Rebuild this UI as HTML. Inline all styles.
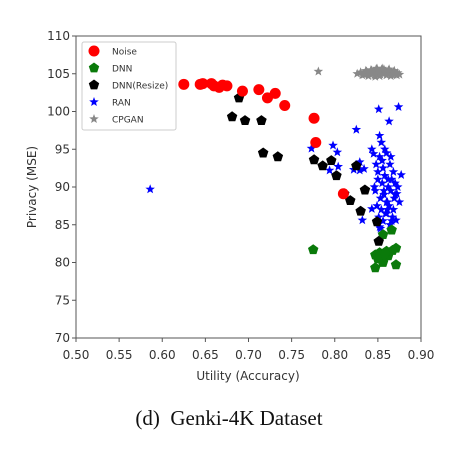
<!DOCTYPE html>
<html><head><meta charset="utf-8"><style>
body{margin:0;background:#fff;width:456px;height:444px;overflow:hidden}
svg text{font-family:"DejaVu Sans","Liberation Sans",sans-serif}
svg text.cap{font-family:"Liberation Serif",serif}
</style></head><body>
<svg id="chart" width="456" height="444" xmlns="http://www.w3.org/2000/svg"></svg>
<script>
const xTicks=[0.50,0.55,0.60,0.65,0.70,0.75,0.80,0.85,0.90];
const yTicks=[70,75,80,85,90,95,100,105,110];
const noiseX=[0.625,0.644,0.647,0.657,0.66,0.666,0.67,0.675,0.693,0.712,0.722,0.731,0.742,0.776,0.778,0.81];
const noiseY=[103.6,103.6,103.7,103.7,103.4,103.2,103.5,103.4,102.7,102.9,101.8,102.4,100.8,99.1,95.9,89.1];
const dnnX=[0.775,0.847,0.856,0.871,0.871,0.867,0.856,0.866,0.847,0.852,0.857,0.862,0.855,0.86,0.85,0.853,0.858];
const dnnY=[81.7,79.3,80.0,79.7,81.9,81.6,83.7,84.3,81.0,81.3,80.6,80.9,80.2,81.5,80.5,81.0,81.2];
const resX=[0.689,0.681,0.696,0.715,0.717,0.734,0.776,0.786,0.796,0.802,0.811,0.818,0.825,0.83,0.835,0.849,0.851];
const resY=[101.8,99.3,98.8,98.8,94.5,94.0,93.6,92.8,93.5,91.5,89.1,88.2,92.8,86.8,89.6,85.4,82.8];
const ranX=[0.586,0.773,0.798,0.803,0.794,0.804,0.825,0.822,0.829,0.834,0.829,0.832,0.851,0.874,0.863,0.852,0.854,0.843,0.845,0.877,0.843,0.852,0.875,0.872,0.871,
0.848,0.852,0.856,0.86,0.864,0.868,0.85,0.855,0.858,0.862,0.866,0.87,0.847,0.853,0.857,0.861,0.865,0.869,0.849,0.854,0.859,0.863,0.867,0.851,0.856,0.86,0.864,0.868,0.873,0.846,0.85,0.855,0.86,0.865,0.87,0.853,0.858,0.862,0.866,0.857,0.861];
const ranY=[89.7,95.1,95.5,94.6,92.2,92.7,97.6,92.3,92.2,92.4,93.3,85.6,100.3,100.6,98.7,96.8,95.9,95.0,94.4,91.6,87.1,84.7,88.0,89.1,85.6,
93.0,94.0,92.5,94.5,93.0,92.0,91.0,90.5,91.5,90.0,91.0,90.5,89.5,88.5,89.0,88.0,89.5,88.5,87.5,87.0,86.5,87.5,86.0,86.0,85.5,86.5,85.0,87.0,90.0,90.0,92.0,93.5,88.0,94.0,89.0,84.5,95.0,91.0,85.5,89.5,87.0];
const cpX=[0.781,0.826,0.83,0.834,0.837,0.84,0.843,0.846,0.848,0.85,0.852,0.854,0.856,0.858,0.86,0.862,0.864,0.866,0.868,0.87,0.873,0.875,0.832,0.836,0.839,0.842,0.845,0.849,0.853,0.857,0.861,0.865,0.869,0.872,0.838,0.844,0.851,0.859,0.867,0.847,0.855,0.863];
const cpY=[105.3,105.0,105.2,104.9,105.3,105.0,105.4,104.8,105.6,105.1,104.7,105.5,105.0,105.3,104.8,105.4,105.1,104.9,105.2,105.0,105.1,104.9,104.8,105.4,104.7,105.5,105.2,105.7,104.9,105.6,105.2,104.7,105.4,104.8,105.1,105.0,105.3,105.1,104.9,104.6,105.7,105.6];
const L=76,R=421,T=36,B=338;
const sx=v=>L+(v-0.5)/0.4*(R-L), sy=v=>B-(v-70)/40*(B-T);
const svg=document.getElementById('chart');const NS='http://www.w3.org/2000/svg';
function mk(tag,attrs,parent){const e=document.createElementNS(NS,tag);for(const k in attrs)e.setAttribute(k,attrs[k]);(parent||svg).appendChild(e);return e;}
const frame=mk('rect',{x:L,y:T,width:R-L,height:B-T,fill:'none',stroke:'#555','stroke-width':1});


xTicks.forEach(t=>{const x=sx(t);mk('line',{x1:x,x2:x,y1:B,y2:B+4,stroke:'#555'});
 const tx=mk('text',{x:x,y:359,'text-anchor':'middle','font-size':12,fill:'#333'});tx.textContent=t.toFixed(2);
 
 });
yTicks.forEach(t=>{const y=sy(t);mk('line',{x1:L-4,x2:L,y1:y,y2:y,stroke:'#555'});
 const tx=mk('text',{x:L-6,y:y+4,'text-anchor':'end','font-size':12,fill:'#333'});tx.textContent=t;
 
 });
const xl=mk('text',{x:248,y:380,'text-anchor':'middle','font-size':12,fill:'#333'});xl.textContent='Utility (Accuracy)';


const yl=mk('text',{x:0,y:0,'text-anchor':'middle','font-size':12,fill:'#333',transform:'translate(36,187) rotate(-90)'});yl.textContent='Privacy (MSE)';


const cap=mk('text',{x:229,y:425,'text-anchor':'middle','font-size':21,fill:'#111','class':'cap','xml:space':'preserve'});cap.textContent='(d)  Genki-4K Dataset';
cap.setAttribute('style','white-space:pre;font-family:"Liberation Serif",serif');


function poly(n,r,inner,cx,cy){let p=[];const k=inner?2*n:n;for(let i=0;i<k;i++){const a=-Math.PI/2+i*Math.PI*2/k;const rr=inner&&i%2?r*inner:r;p.push((cx+rr*Math.cos(a)).toFixed(1)+','+(cy+rr*Math.sin(a)).toFixed(1));}return p.join(' ');}
function marker(type,cx,cy,color,name){let e;
 if(type==='circle')e=mk('circle',{cx:cx,cy:cy,r:5.5,fill:color});
 else if(type==='pent')e=mk('polygon',{points:poly(5,5.5,0,cx,cy),fill:color});
 else e=mk('polygon',{points:poly(5,5,0.42,cx,cy),fill:color});
 
 }
function series(xs,ys,type,color,name){xs.forEach((v,i)=>marker(type,sx(v),sy(ys[i]),color,name));}
series(cpX,cpY,'star','#888','cpgan-point');
series(ranX,ranY,'star','#0000ff','ran-point');
series(dnnX,dnnY,'pent','#0a7a0a','dnn-point');
series(resX,resY,'pent','#000','dnn-resize-point');
series(noiseX,noiseY,'circle','#f00','noise-point');
const lg=mk('g',{});
mk('rect',{x:82,y:42,width:94,height:88,fill:'#fff',stroke:'#ccc',rx:2},lg);
const items=[['Noise','circle','#f00'],['DNN','pent','#0a7a0a'],['DNN(Resize)','pent','#000'],['RAN','star','#0000ff'],['CPGAN','star','#888']];
items.forEach((it,i)=>{const y=51+i*17;marker(it[1],94,y,it[2],'legend-marker');
 const t=mk('text',{x:112,y:y+3.5,'font-size':9,fill:'#333'},lg);t.textContent=it[0];
 
 });
</script>
</body></html>
